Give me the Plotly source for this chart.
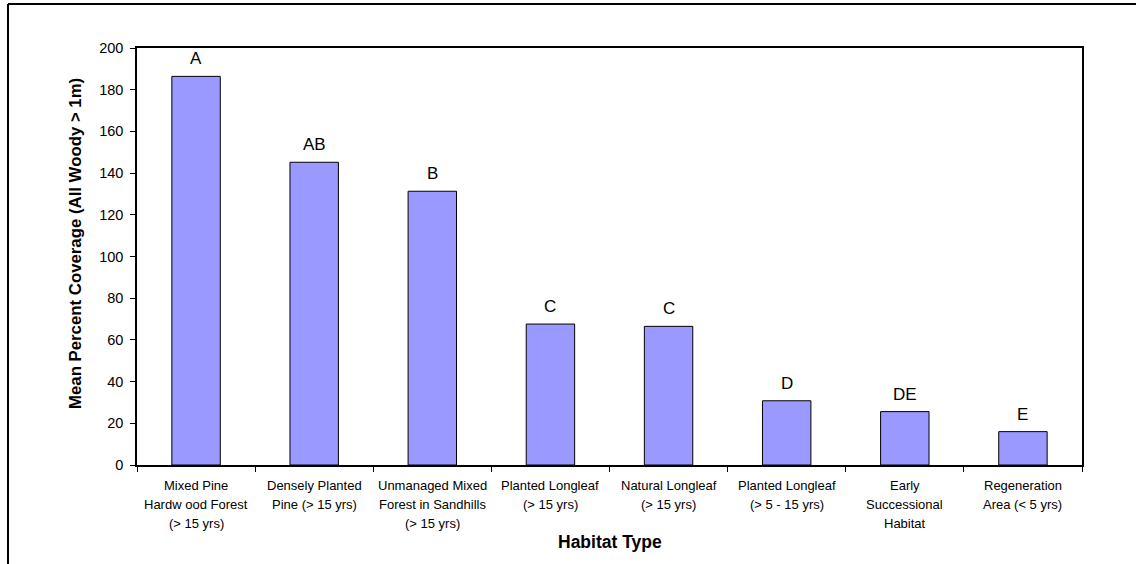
import plotly.graph_objects as go

# Habitat categories (each entry holds the lines of its axis label)
habitat_lines = [
    ["Mixed Pine", "Hardw ood Forest", "(> 15 yrs)"],
    ["Densely Planted", "Pine (> 15 yrs)"],
    ["Unmanaged Mixed", "Forest in Sandhills", "(> 15 yrs)"],
    ["Planted Longleaf", "(> 15 yrs)"],
    ["Natural Longleaf", "(> 15 yrs)"],
    ["Planted Longleaf", "(> 5 - 15 yrs)"],
    ["Early", "Successional", "Habitat"],
    ["Regeneration", "Area (< 5 yrs)"],
]
habitats = [" ".join(l) for l in habitat_lines]

# Mean percent coverage of all woody stems taller than 1 m
mean_coverage = [186.4, 145.2, 131.3, 67.6, 66.5, 30.8, 25.6, 16.0]

# Significance grouping letters
groups = ["A", "AB", "B", "C", "C", "D", "DE", "E"]

y_ticks = [0, 20, 40, 60, 80, 100, 120, 140, 160, 180, 200]

FONT = "Liberation Sans, Arial, sans-serif"

# plot-area geometry in pixels
W, H = 1136, 564
L, R, T, B = 137, 54, 48, 99
PW, PH = W - L - R, H - T - B


def px_x(px):
    return (px - L) / PW


def px_y(py):
    return (H - B - py) / PH


fig = go.Figure()
fig.add_trace(go.Bar(
    x=habitats,
    y=mean_coverage,
    marker=dict(color="#9999FF", line=dict(color="#000000", width=1)),
    width=0.41,
    hoverinfo="x+y",
))

annotations = []
# group letters above bars
for h, v, g in zip(habitats, mean_coverage, groups):
    annotations.append(dict(
        x=h, y=v, xref="x", yref="y", text=g, showarrow=False,
        yanchor="bottom", yshift=6,
        font=dict(family=FONT, size=17, color="#000000"),
    ))

# multi-line category labels
for h, lines in zip(habitats, habitat_lines):
    for i, line in enumerate(lines):
        annotations.append(dict(
            x=h, y=0, xref="x", yref="paper", text=line, showarrow=False,
            yanchor="middle", yshift=-20 - 19 * i,
            font=dict(family=FONT, size=13, color="#000000"),
        ))

# axis titles
annotations.append(dict(
    x=0.5, y=px_y(542), xref="paper", yref="paper", text="<b>Habitat Type</b>",
    showarrow=False, xanchor="center", yanchor="middle",
    font=dict(family=FONT, size=17.5, color="#000000"),
))
annotations.append(dict(
    x=px_x(76), y=px_y(244), xref="paper", yref="paper",
    text="<b>Mean Percent Coverage (All Woody > 1m)</b>",
    showarrow=False, xanchor="center", yanchor="middle", textangle=-90,
    font=dict(family=FONT, size=16.8, color="#000000"),
))

# outer chart frame (left and top edges)
shapes = [
    dict(type="line", xref="paper", yref="paper",
         x0=px_x(8), x1=px_x(W), y0=px_y(4), y1=px_y(4),
         line=dict(color="#000000", width=2)),
    dict(type="line", xref="paper", yref="paper",
         x0=px_x(8), x1=px_x(8), y0=px_y(4), y1=px_y(H),
         line=dict(color="#000000", width=2)),
]

fig.update_layout(
    width=W, height=H,
    margin=dict(l=L, r=R, t=T, b=B),
    paper_bgcolor="#FFFFFF",
    plot_bgcolor="#FFFFFF",
    showlegend=False,
    bargap=0.59,
    annotations=annotations,
    shapes=shapes,
    font=dict(family=FONT, color="#000000"),
)

fig.update_xaxes(
    type="category",
    showticklabels=False,
    ticks="outside", ticklen=5, tickcolor="#000000",
    tickson="boundaries",
    showline=True, linecolor="#000000", linewidth=1.5, mirror=True,
    showgrid=False, zeroline=False,
)

fig.update_yaxes(
    range=[0, 200],
    tickvals=y_ticks,
    ticks="outside", ticklen=5, tickcolor="#000000",
    ticklabelstandoff=4,
    tickfont=dict(family=FONT, size=14.5, color="#000000"),
    showline=True, linecolor="#000000", linewidth=1.5, mirror=True,
    showgrid=False, zeroline=False,
)

fig.write_html("out.html")
